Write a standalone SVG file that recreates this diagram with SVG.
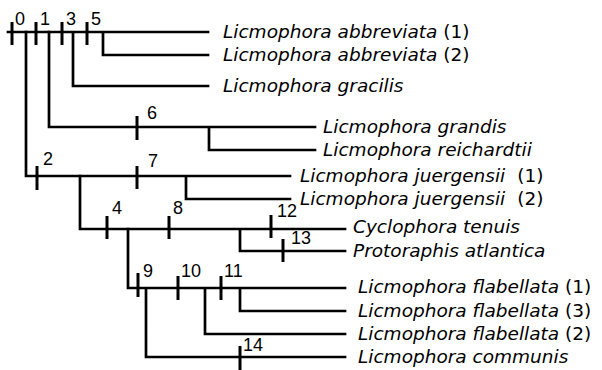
<svg xmlns="http://www.w3.org/2000/svg" width="602" height="370" viewBox="0 0 602 370">
<style>
.br{fill:none;stroke:#000;stroke-width:2.7;stroke-linecap:square}
.tk{stroke:#000;stroke-width:3}
.n{font-family:"Liberation Sans","DejaVu Sans",sans-serif;font-size:18px;fill:#000}
.sp{font-family:"DejaVu Sans","Liberation Sans",sans-serif;font-size:18.5px;fill:#000}
.it{font-style:italic}
</style>
<rect width="602" height="370" fill="#fff"/>
<g id="connectors">
<path class="br" d="M8 32H208M103 32V55H208M73 32V86H208"/>
<path class="br" d="M49 32V127H315M209 127V150H315"/>
<path class="br" d="M26 32V176H290M186 176V199H290"/>
<path class="br" d="M80 176V229H345M240 229V251H345"/>
<path class="br" d="M128 229V288H345M240 288V311H345M205 288V334H345M146 288V357H345"/>
</g>
<g id="tick0"><line class="tk" x1="12" y1="22" x2="12" y2="45"/><text class="n" x="15" y="25">0</text></g>
<g id="tick1"><line class="tk" x1="36" y1="22" x2="36" y2="45"/><text class="n" x="40" y="25">1</text></g>
<g id="tick3"><line class="tk" x1="62" y1="22" x2="62" y2="45"/><text class="n" x="66" y="25">3</text></g>
<g id="tick5"><line class="tk" x1="87" y1="22" x2="87" y2="45"/><text class="n" x="91" y="25">5</text></g>
<g id="tick6"><line class="tk" x1="137" y1="116" x2="137" y2="140"/><text class="n" x="147" y="119">6</text></g>
<g id="tick2"><line class="tk" x1="37" y1="166" x2="37" y2="190"/><text class="n" x="43" y="165">2</text></g>
<g id="tick7"><line class="tk" x1="137" y1="166" x2="137" y2="189"/><text class="n" x="148" y="167">7</text></g>
<g id="tick4"><line class="tk" x1="107" y1="216" x2="107" y2="239"/><text class="n" x="112" y="214">4</text></g>
<g id="tick8"><line class="tk" x1="169" y1="216" x2="169" y2="239"/><text class="n" x="173" y="214">8</text></g>
<g id="tick12"><line class="tk" x1="271" y1="215" x2="271" y2="238"/><text class="n" x="277" y="217">12</text></g>
<g id="tick13"><line class="tk" x1="283" y1="239" x2="283" y2="262"/><text class="n" x="291" y="244">13</text></g>
<g id="tick9"><line class="tk" x1="138" y1="273" x2="138" y2="297"/><text class="n" x="143" y="277">9</text></g>
<g id="tick10"><line class="tk" x1="178" y1="276" x2="178" y2="300"/><text class="n" x="181" y="277">10</text></g>
<g id="tick11"><line class="tk" x1="221" y1="276" x2="221" y2="300"/><text class="n" x="224" y="277">11</text></g>
<g id="tick14"><line class="tk" x1="240" y1="346" x2="240" y2="370"/><text class="n" x="243" y="351">14</text></g>
<g id="abbreviata1"><text class="sp" x="223" y="38"><tspan class="it">Licmophora abbreviata</tspan> (1)</text></g>
<g id="abbreviata2"><text class="sp" x="223" y="61"><tspan class="it">Licmophora abbreviata</tspan> (2)</text></g>
<g id="gracilis"><text class="sp it" x="223" y="92">Licmophora gracilis</text></g>
<g id="grandis"><text class="sp it" x="323" y="133">Licmophora grandis</text></g>
<g id="reichardtii"><text class="sp it" x="323" y="156">Licmophora reichardtii</text></g>
<g id="juergensii1"><text class="sp" x="300" y="182"><tspan class="it">Licmophora juergensii</tspan><tspan dx="12">(1)</tspan></text></g>
<g id="juergensii2"><text class="sp" x="300" y="205"><tspan class="it">Licmophora juergensii</tspan><tspan dx="12">(2)</tspan></text></g>
<g id="cyclophora"><text class="sp it" x="353" y="233">Cyclophora tenuis</text></g>
<g id="protoraphis"><text class="sp it" x="353" y="257">Protoraphis atlantica</text></g>
<g id="flabellata1"><text class="sp" x="358" y="293"><tspan class="it">Licmophora flabellata</tspan> (1)</text></g>
<g id="flabellata3"><text class="sp" x="358" y="317"><tspan class="it">Licmophora flabellata</tspan> (3)</text></g>
<g id="flabellata2"><text class="sp" x="358" y="340"><tspan class="it">Licmophora flabellata</tspan> (2)</text></g>
<g id="communis"><text class="sp it" x="358" y="363">Licmophora communis</text></g>
</svg>
